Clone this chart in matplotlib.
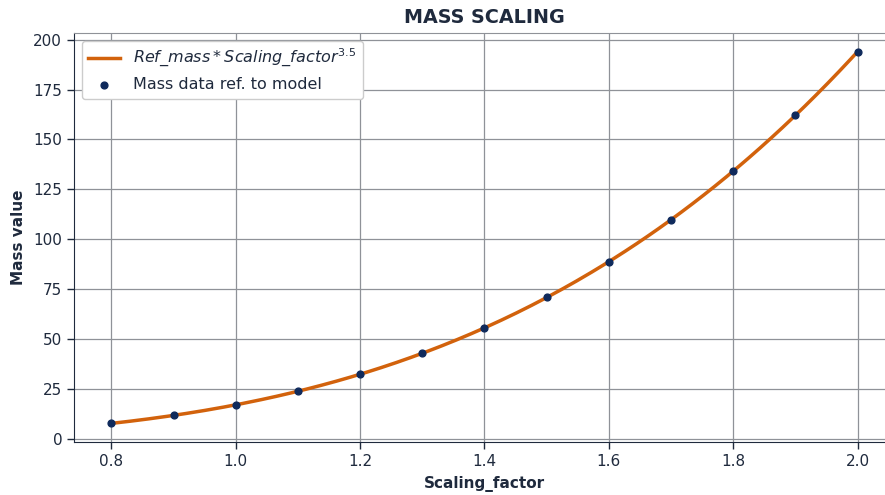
import numpy as np
import matplotlib
matplotlib.use("Agg")
import matplotlib.pyplot as plt

# measured scaling factors and the masses they produced
scaling_factor = [0.8, 0.9, 1.0, 1.1, 1.2, 1.3, 1.4, 1.5, 1.6, 1.7, 1.8, 1.9, 2.0]
mass_data = [7.9, 11.9, 17.2, 24.0, 32.5, 43.0, 55.7, 70.9, 88.8, 109.8, 134.1, 162.1, 194.0]

# model: ref_mass * s**3.5
ref_mass = 17.15
exponent = 3.5

ink = "#1f2a3d"
line_col = "#d2620c"
dot_col = "#0f2a5c"

plt.rcParams.update({
    "font.family": "DejaVu Sans",
    "text.color": ink,
    "axes.labelcolor": ink,
    "xtick.color": ink,
    "ytick.color": ink,
    "axes.edgecolor": ink,
})

fig = plt.figure(figsize=(8.85, 4.95), dpi=100)
ax = fig.add_axes([0.0836, 0.1071, 0.9277, 0.8263])

s_fine = np.linspace(min(scaling_factor), max(scaling_factor), 200)
ax.plot(s_fine, ref_mass * s_fine ** exponent, color=line_col, lw=2.5,
        label=r"$Ref\_mass * Scaling\_factor^{3.5}$", zorder=2)
ax.scatter(scaling_factor, mass_data, s=24, color=dot_col, zorder=3,
           label="Mass data ref. to model")

ax.grid(True, color="#8f9298", lw=0.9)
ax.set_axisbelow(True)
ax.spines["right"].set_visible(False)
ax.spines["top"].set_color("#8f9298")
ax.tick_params(labelsize=11, length=5, width=1)

ax.set_xticks([0.8, 1.0, 1.2, 1.4, 1.6, 1.8, 2.0])
ax.set_yticks([0, 25, 50, 75, 100, 125, 150, 175, 200])

ax.set_title("MASS SCALING", fontsize=13.8, fontweight="bold", pad=7)
ax.set_xlabel("Scaling_factor", fontsize=11, fontweight="bold", labelpad=5)
ax.set_ylabel("Mass value", fontsize=11, fontweight="bold", labelpad=5)

leg = ax.legend(loc="upper left", fontsize=11.5, frameon=True, framealpha=1,
                borderaxespad=0.5)
leg.get_frame().set_edgecolor("#cccccc")

fig.savefig("out.png", dpi=100)
